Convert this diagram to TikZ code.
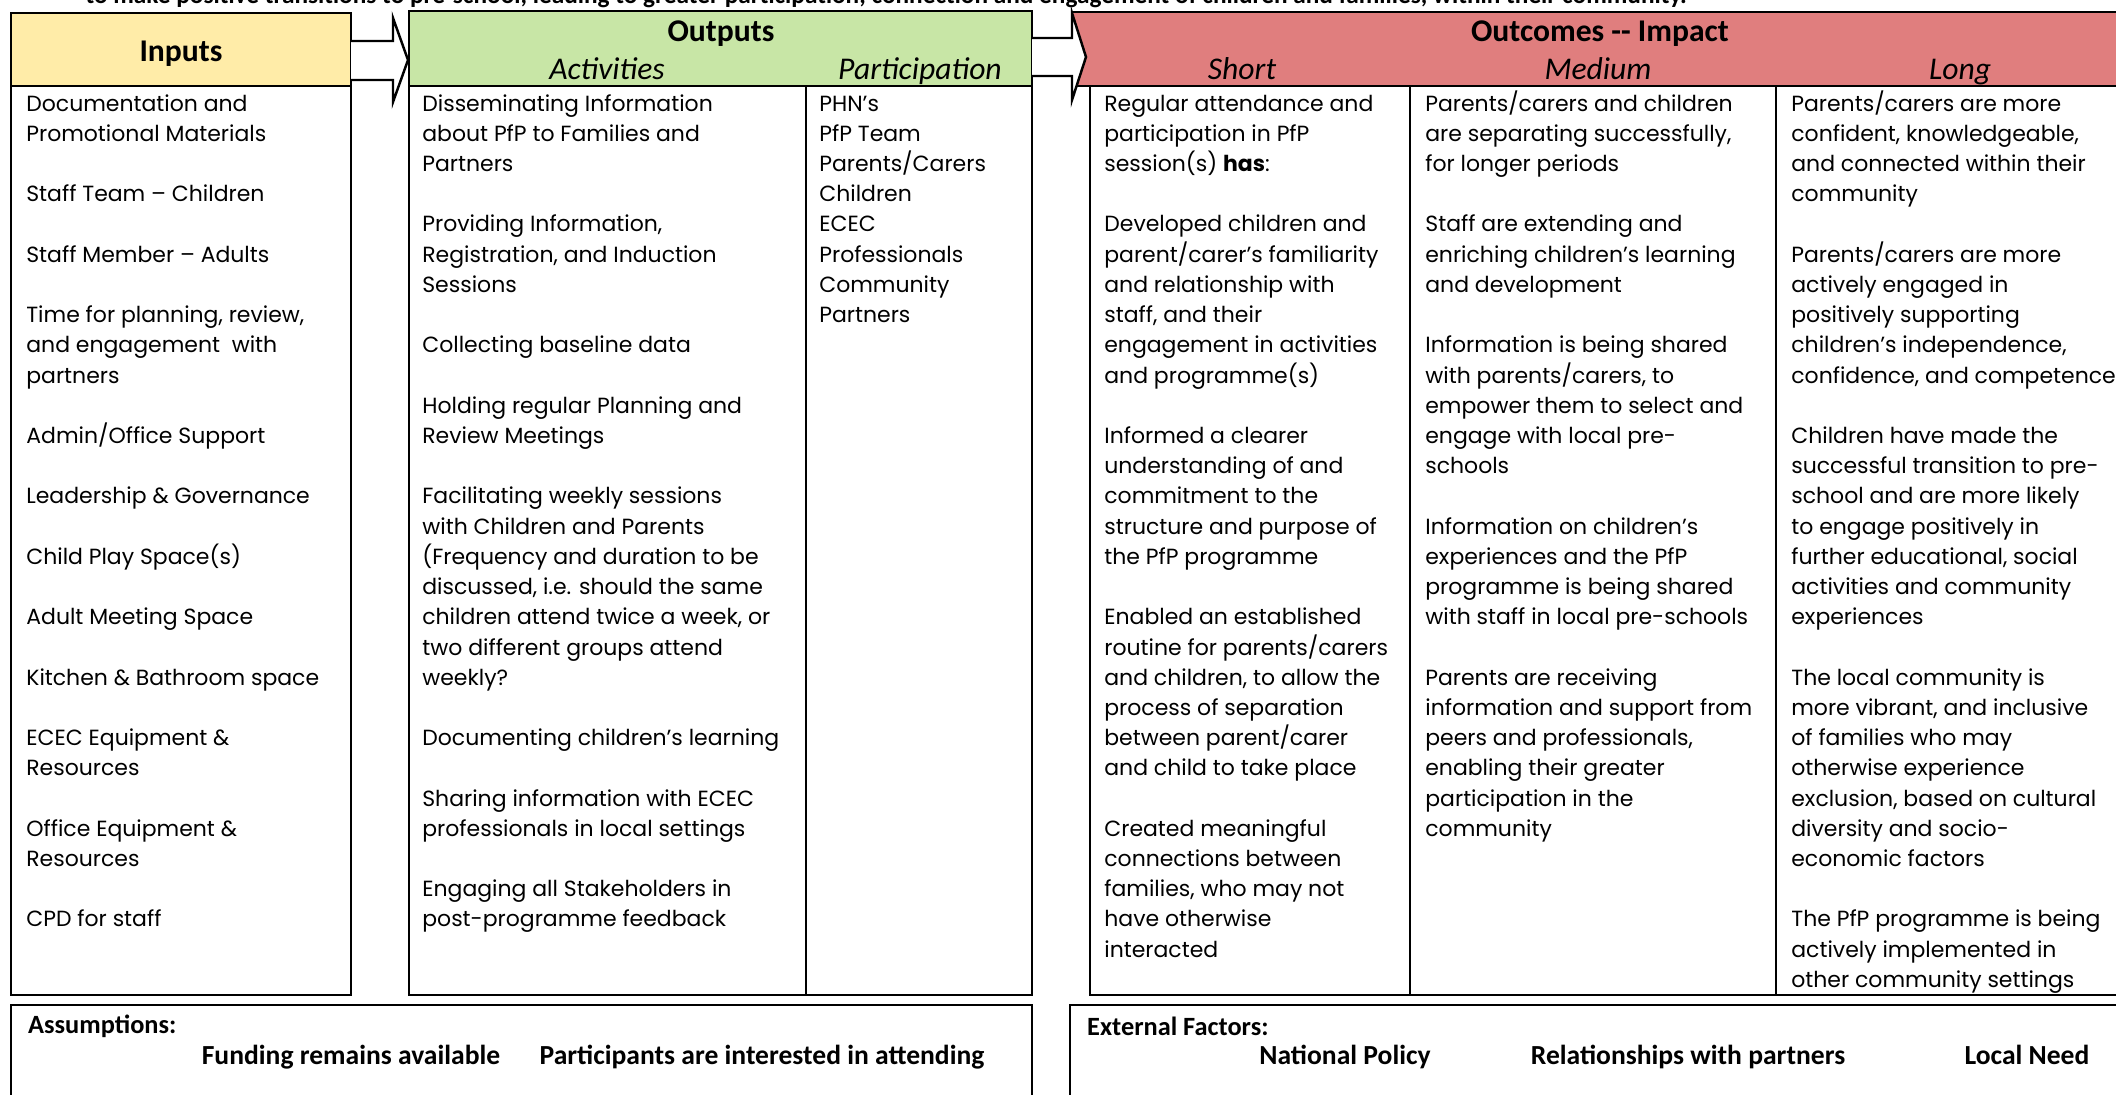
\documentclass[tikz,border=0pt]{standalone}
\usepackage{fontspec}
\setmainfont{Poppins}
\newfontfamily\headfont{Carlito}
\usepackage{tikz}
\usetikzlibrary{positioning}

\definecolor{inyellow}{HTML}{FFECA8}
\definecolor{outgreen}{HTML}{C8E6A6}
\definecolor{impactred}{HTML}{E07E7E}

% same first-line height in every column
\newcommand\firstline{\vphantom{/(}}

\tikzset{
  colbox/.style={draw, line width=1.4pt},
  blockarrow/.style={draw, fill=white, line width=1.4pt, line join=miter},
  headtxt/.style={anchor=base, font=\headfont\bfseries\fontsize{18}{20}\selectfont},
  subtxt/.style={anchor=base, font=\headfont\itshape\fontsize{18}{20}\selectfont},
  bodytxt/.style={anchor=north west, align=left, inner sep=0pt,
    font=\fontsize{12.5}{17.2}\selectfont},
  notetxt/.style={font=\headfont\bfseries\fontsize{15}{17}\selectfont},
  factortxt/.style={anchor=base, font=\headfont\bfseries\fontsize{15.7}{18}\selectfont},
}

\begin{document}
\begin{tikzpicture}[x=0.02cm, y=-0.02cm]
  \useasboundingbox (0,0) rectangle (2116,1095);

  % aim statement, runs off the top edge
  \node[notetxt, font=\headfont\bfseries\fontsize{14.4}{16}\selectfont, anchor=base] (aim) at (886,4) {to make positive transitions to pre-school, leading to greater participation, connection and engagement of children and families, within their community.};

  % column frames
  \filldraw[colbox, fill=inyellow] (11,13) rectangle (351,86);
  \draw[colbox] (11,86) rectangle (351,995);
  \filldraw[colbox, fill=outgreen] (409,11) rectangle (1032,86);
  \draw[colbox] (409,86) rectangle (1032,995);
  \draw[colbox] (806,86) -- (806,995);
  \filldraw[colbox, fill=impactred] (1072,12) rectangle (2130,86);
  \draw[colbox] (1090,86) rectangle (2130,995);
  \draw[colbox] (1410,86) -- (1410,995);
  \draw[colbox] (1776,86) -- (1776,995);

  % block arrows between the columns
  \filldraw[blockarrow] (351,41) -- (393,41) -- (393,18) -- (408,60)
    -- (393,102) -- (393,80) -- (351,80);
  \filldraw[blockarrow] (1032,38) -- (1072,38) -- (1072,13) -- (1086,57)
    -- (1072,100) -- (1072,76) -- (1032,76);

  % headings
  \node[headtxt] (inputs) at (181,61.5) {Inputs};
  \node[headtxt] (outputs) at (721,41.5) {Outputs};
  \node[subtxt] (activities) at (607,79.5) {Activities};
  \node[subtxt] (participation) at (920,79.5) {Participation};
  \node[headtxt] (outcomes) at (1600,41.5) {Outcomes -- Impact};
  \node[subtxt] (short) at (1242,79.5) {Short};
  \node[subtxt] (medium) at (1598,79.5) {Medium};
  \node[subtxt] (long) at (1960,79.5) {Long};

  % column contents
  \node[bodytxt] (inlist) at (26,90) {\firstline Documentation and\\ Promotional Materials\\[17.2pt]
    Staff Team -- Children\\[17.2pt]
    Staff Member -- Adults\\[17.2pt]
    Time for planning, review,\\ and engagement\ \ with\\ partners\\[17.2pt]
    Admin/Office Support\\[17.2pt]
    Leadership \& Governance\\[17.2pt]
    Child Play Space(s)\\[17.2pt]
    Adult Meeting Space\\[17.2pt]
    Kitchen \& Bathroom space\\[17.2pt]
    ECEC Equipment \&\\ Resources\\[17.2pt]
    Office Equipment \&\\ Resources\\[17.2pt]
    CPD for staff};

  \node[bodytxt] (actlist) at (422,90) {\firstline Disseminating Information\\ about PfP to Families and\\ Partners\\[17.2pt]
    Providing Information,\\ Registration, and Induction\\ Sessions\\[17.2pt]
    Collecting baseline data\\[17.2pt]
    Holding regular Planning and\\ Review Meetings\\[17.2pt]
    Facilitating weekly sessions\\ with Children and Parents\\ (Frequency and duration to be\\ discussed, i.e. should the same\\ children attend twice a week, or\\ two different groups attend\\ weekly?\\[17.2pt]
    Documenting children's learning\\[17.2pt]
    Sharing information with ECEC\\ professionals in local settings\\[17.2pt]
    Engaging all Stakeholders in\\ post-programme feedback};

  \node[bodytxt] (partlist) at (819,90) {\firstline PHN's\\ PfP Team\\ Parents/Carers\\ Children\\ ECEC\\ Professionals\\ Community\\ Partners};

  \node[bodytxt] (shortlist) at (1104,90) {\firstline Regular attendance and\\ participation in PfP\\ session(s) \textbf{has}:\\[17.2pt]
    Developed children and\\ parent/carer's familiarity\\ and relationship with\\ staff, and their\\ engagement in activities\\ and programme(s)\\[17.2pt]
    Informed a clearer\\ understanding of and\\ commitment to the\\ structure and purpose of\\ the PfP programme\\[17.2pt]
    Enabled an established\\ routine for parents/carers\\ and children, to allow the\\ process of separation\\ between parent/carer\\ and child to take place\\[17.2pt]
    Created meaningful\\ connections between\\ families, who may not\\ have otherwise\\ interacted};

  \node[bodytxt] (medlist) at (1425,90) {\firstline Parents/carers and children\\ are separating successfully,\\ for longer periods\\[17.2pt]
    Staff are extending and\\ enriching children's learning\\ and development\\[17.2pt]
    Information is being shared\\ with parents/carers, to\\ empower them to select and\\ engage with local pre-\\ schools\\[17.2pt]
    Information on children's\\ experiences and the PfP\\ programme is being shared\\ with staff in local pre-schools\\[17.2pt]
    Parents are receiving\\ information and support from\\ peers and professionals,\\ enabling their greater\\ participation in the\\ community};

  \node[bodytxt] (longlist) at (1791,90) {\firstline Parents/carers are more\\ confident, knowledgeable,\\ and connected within their\\ community\\[17.2pt]
    Parents/carers are more\\ actively engaged in\\ positively supporting\\ children's independence,\\ confidence, and competence\\[17.2pt]
    Children have made the\\ successful transition to pre-\\ school and are more likely\\ to engage positively in\\ further educational, social\\ activities and community\\ experiences\\[17.2pt]
    The local community is\\ more vibrant, and inclusive\\ of families who may\\ otherwise experience\\ exclusion, based on cultural\\ diversity and socio-\\ economic factors\\[17.2pt]
    The PfP programme is being\\ actively implemented in\\ other community settings};

  % assumptions and external factors
  \draw[colbox] (11,1005) rectangle (1032,1110);
  \draw[colbox] (1070,1005) rectangle (2130,1110);
  \node[notetxt, anchor=west] (assume) at (22,1026) {Assumptions:};
  \node[factortxt] (funding) at (351,1064.5) {Funding remains available};
  \node[factortxt] (interest) at (762,1064.5) {Participants are interested in attending};
  \node[notetxt, anchor=west] (external) at (1081,1026) {External Factors:};
  \node[factortxt] (policy) at (1345,1064.5) {National Policy};
  \node[factortxt] (relations) at (1688,1064.5) {Relationships with partners};
  \node[factortxt] (need) at (2027,1064.5) {Local Need};
\end{tikzpicture}
\end{document}
